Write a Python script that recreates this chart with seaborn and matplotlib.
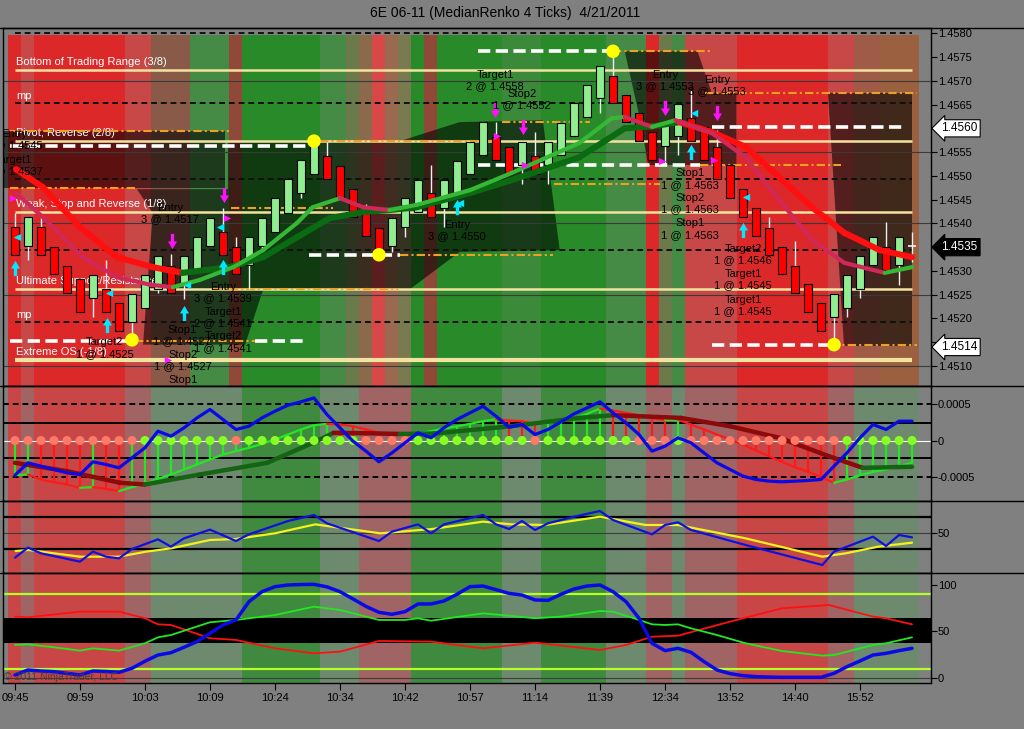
import numpy as np
import pandas as pd
import matplotlib
matplotlib.use("Agg")
import matplotlib.pyplot as plt
import seaborn as sns
from matplotlib.collections import LineCollection
from matplotlib.patches import Polygon
from matplotlib.path import Path
from matplotlib.lines import Line2D
import matplotlib.transforms as mtransforms

# ======================= DATA =======================
title = "6E 06-11 (MedianRenko 4 Ticks)  4/21/2011"
time_labels = ["09:45", "09:59", "10:03", "10:09", "10:24", "10:34", "10:42",
               "10:57", "11:14", "11:39", "12:34", "13:52", "14:40", "15:52"]
time_label_bars = [0, 5, 10, 15, 20, 25, 30, 35, 40, 45, 50, 55, 60, 65]
price_ticks = [1.4510, 1.4515, 1.4520, 1.4525, 1.4530, 1.4535, 1.4540, 1.4545,
               1.4550, 1.4555, 1.4560, 1.4565, 1.4570, 1.4575, 1.4580]
hidden_tick_labels = [1.4515, 1.4535, 1.4560]

bar_open = [1.45392, 1.45352, 1.45392, 1.45350, 1.45310, 1.45283, 1.45243, 1.45262, 1.45233, 1.45193,
            1.45222, 1.45262, 1.45310, 1.45273, 1.45304, 1.45352, 1.45382, 1.45350, 1.45313, 1.45352,
            1.45382, 1.45422, 1.45464, 1.45504, 1.45542, 1.45521, 1.45472, 1.45432, 1.45390, 1.45352,
            1.45392, 1.45424, 1.45464, 1.45432, 1.45464, 1.45504, 1.45544, 1.45582, 1.45561, 1.45523,
            1.45542, 1.45523, 1.45544, 1.45584, 1.45624, 1.45663, 1.45710, 1.45670, 1.45632, 1.45592,
            1.45563, 1.45584, 1.45621, 1.45603, 1.45561, 1.45523, 1.45472, 1.45432, 1.45390, 1.45350,
            1.45310, 1.45273, 1.45233, 1.45203, 1.45222, 1.45262, 1.45313, 1.45350, 1.45313, 1.45352]
bar_high = [1.45422, 1.45413, 1.45413, 1.45350, 1.45310, 1.45283, 1.45292, 1.45323, 1.45233, 1.45252,
            1.45292, 1.45331, 1.45336, 1.45331, 1.45371, 1.45411, 1.45432, 1.45371, 1.45371, 1.45411,
            1.45453, 1.45493, 1.45533, 1.45573, 1.45571, 1.45521, 1.45472, 1.45441, 1.45390, 1.45411,
            1.45453, 1.45491, 1.45523, 1.45491, 1.45531, 1.45571, 1.45613, 1.45613, 1.45561, 1.45571,
            1.45592, 1.45571, 1.45611, 1.45653, 1.45691, 1.45731, 1.45762, 1.45670, 1.45632, 1.45592,
            1.45613, 1.45651, 1.45680, 1.45603, 1.45596, 1.45523, 1.45472, 1.45432, 1.45413, 1.45350,
            1.45363, 1.45273, 1.45233, 1.45252, 1.45292, 1.45331, 1.45371, 1.45403, 1.45371, 1.45382]
bar_low = [1.45334, 1.45323, 1.45334, 1.45294, 1.45254, 1.45214, 1.45203, 1.45214, 1.45174, 1.45155,
           1.45222, 1.45254, 1.45254, 1.45241, 1.45304, 1.45352, 1.45334, 1.45294, 1.45262, 1.45340,
           1.45382, 1.45422, 1.45453, 1.45504, 1.45493, 1.45453, 1.45413, 1.45374, 1.45334, 1.45340,
           1.45371, 1.45424, 1.45413, 1.45392, 1.45464, 1.45504, 1.45544, 1.45533, 1.45504, 1.45483,
           1.45504, 1.45483, 1.45544, 1.45584, 1.45624, 1.45632, 1.45653, 1.45613, 1.45573, 1.45533,
           1.45523, 1.45544, 1.45573, 1.45533, 1.45493, 1.45453, 1.45413, 1.45374, 1.45334, 1.45294,
           1.45254, 1.45214, 1.45174, 1.45145, 1.45203, 1.45243, 1.45313, 1.45302, 1.45271, 1.45319]
bar_close = [1.45334, 1.45413, 1.45334, 1.45294, 1.45254, 1.45214, 1.45292, 1.45214, 1.45174, 1.45252,
             1.45292, 1.45331, 1.45254, 1.45331, 1.45371, 1.45411, 1.45334, 1.45294, 1.45371, 1.45411,
             1.45453, 1.45493, 1.45533, 1.45571, 1.45493, 1.45453, 1.45413, 1.45374, 1.45342, 1.45411,
             1.45453, 1.45491, 1.45413, 1.45491, 1.45531, 1.45571, 1.45613, 1.45533, 1.45504, 1.45571,
             1.45504, 1.45571, 1.45611, 1.45653, 1.45691, 1.45731, 1.45653, 1.45613, 1.45573, 1.45533,
             1.45613, 1.45651, 1.45573, 1.45533, 1.45493, 1.45453, 1.45413, 1.45374, 1.45334, 1.45294,
             1.45254, 1.45214, 1.45174, 1.45252, 1.45292, 1.45331, 1.45371, 1.45302, 1.45371, 1.45352]

# moving averages (bar position, price)
slow_ma_x = [0.08, 2.15, 5.0, 7.85, 10.6, 12.9, 16.5, 19.1, 21.7, 24.2, 26.8, 28.8, 30.9, 35.0, 38.2,
             43.4, 46.9, 49.0, 51.1, 53.6, 56.2, 58.8, 61.3, 63.8, 66.5, 69.0]
slow_ma_y = [1.45514, 1.45476, 1.45392, 1.45329, 1.45308, 1.45296, 1.45308, 1.45329, 1.45371, 1.45411,
             1.45424, 1.45428, 1.45434, 1.45464, 1.45491, 1.45539, 1.45600, 1.45604, 1.45613, 1.45592,
             1.45561, 1.45497, 1.45434, 1.45380, 1.45344, 1.45329]
fast_ma_x = [0.08, 2.15, 5.2, 7.85, 10.4, 12.15, 14.2, 16.8, 19.1, 21.7, 22.9, 25.0, 26.8, 28.8, 30.9,
             35.0, 38.2, 43.4, 45.9, 46.9, 49.0, 50.8, 53.6, 56.2, 58.8, 61.3, 63.8, 66.9, 69.0]
fast_ma_y = [1.45464, 1.45413, 1.45329, 1.45287, 1.45271, 1.45266, 1.45281, 1.45308, 1.45344, 1.45401,
             1.45434, 1.45453, 1.45434, 1.45428, 1.45439, 1.45470, 1.45506, 1.45569, 1.45621, 1.45624,
             1.45603, 1.45617, 1.45590, 1.45539, 1.45449, 1.45365, 1.45317, 1.45296, 1.45308]

# Murrey math levels
murrey_solid = [1.45722, 1.45573, 1.45424, 1.45262, 1.45113]
murrey_dashed = [1.45800, 1.45653, 1.45493, 1.45344, 1.45193]
murrey_labels = ["Bottom of Trading Range (3/8)", "mp", "Pivot, Reverse (2/8)",
                 "Weak, Stop and Reverse (1/8)", "Ultimate Support/Resistance", "mp", "Extreme OS (-1/8)"]
murrey_label_prices = [1.45739, 1.45668, 1.45590, 1.45441, 1.45279, 1.45208, 1.45130]
price_grid = [1.4570, 1.4555, 1.4540, 1.4525, 1.4510]

# range lines: (price, from bar, to bar)
white_lines = [(1.45762, 35.6, 46.0), (1.45563, -0.4, 22.5), (1.45523, 35.6, 52.7),
               (1.45603, 53.6, 68.5), (1.45334, 22.6, 29.6), (1.45153, -0.4, 9.2),
               (1.45153, 18.5, 22.5), (1.45145, 53.6, 62.8)]
orange_lines = [(1.45762, 46.0, 53.5), (1.45594, -0.4, 16.5), (1.45474, -0.4, 9.4),
                (1.45432, 16.6, 24.5), (1.45573, 23.5, 37.3), (1.45613, 37.5, 44.2),
                (1.45483, 41.5, 49.6), (1.45262, 15.2, 29.5), (1.45674, 53.1, 69.4),
                (1.45523, 52.7, 63.5), (1.45334, 29.6, 41.4), (1.45153, 9.2, 18.5),
                (1.45145, 62.8, 69.4)]
swing_bars = [9, 23, 28, 46, 63]
swing_prices = [1.45155, 1.45573, 1.45334, 1.45762, 1.45145]

# shaded range zones (bar, price) vertices
zone_a = [(-0.92, 1.45594), (16.15, 1.45594), (16.15, 1.45474), (-0.92, 1.45474)]
zone_b = [(9.38, 1.45472), (16.38, 1.45472), (16.38, 1.45573), (29.6, 1.45573), (34.2, 1.45613),
          (40.6, 1.45617), (41.9, 1.45344), (34.2, 1.45340), (30.4, 1.45262), (19.1, 1.45262),
          (17.7, 1.45145), (9.85, 1.45145), (10.6, 1.45422)]
zone_c = [(46.9, 1.45762), (52.5, 1.45762), (53.6, 1.45674), (55.5, 1.45674), (55.5, 1.45523),
          (48.7, 1.45523), (48.1, 1.45617)]
zone_d = [(62.5, 1.45674), (69.0, 1.45674), (69.0, 1.45142), (63.8, 1.45142)]

# trade markers
buy_arrow_bars = [0, 7.1, 13, 16, 34, 52, 56]
buy_arrow_prices = [1.45306, 1.45187, 1.45212, 1.45308, 1.45434, 1.45550, 1.45386]
sell_arrow_bars = [16.1, 12.1, 36.9, 39.1, 50.0, 54.0]
sell_arrow_prices = [1.45460, 1.45363, 1.45638, 1.45603, 1.45642, 1.45632]
cyan_tri_bars = [0.15, 7.2, 13.2, 15.8, 34.2, 52.2, 56.2]
cyan_tri_prices = [1.45371, 1.45254, 1.45271, 1.45392, 1.45443, 1.45632, 1.45455]
mag_tri_bars = [-0.15, 16.3, 11.8, 37.1, 39.2, 49.8, 53.8]
mag_tri_prices = [1.45453, 1.45411, 1.45113, 1.45584, 1.45523, 1.45531, 1.45533]

trade_labels = [(-0.08, 1.45576, "Entry\n1 @ 1.4545"), (-0.08, 1.45522, "Target1\n1 @ 1.4537"),
                (11.92, 1.45421, "Entry\n3 @ 1.4517"), (6.92, 1.45138, "Target2\n1 @ 1.4525"),
                (16.0, 1.45255, "Entry\n3 @ 1.4539"), (16.0, 1.45202, "Target1\n2 @ 1.4541"),
                (16.0, 1.45150, "Target2\n1 @ 1.4541"), (12.85, 1.45164, "Stop1\n1 @ 1.4527"),
                (12.92, 1.45112, "Stop2\n1 @ 1.4527"), (12.92, 1.45059, "Stop1\n1 @ 1.4527"),
                (34.0, 1.45385, "Entry\n3 @ 1.4550"), (36.92, 1.45700, "Target1\n2 @ 1.4558"),
                (39.0, 1.45660, "Stop2\n1 @ 1.4552"), (50.0, 1.45700, "Entry\n3 @ 1.4553"),
                (54.0, 1.45690, "Entry\n3 @ 1.4553"), (51.92, 1.45493, "Stop1\n1 @ 1.4563"),
                (51.92, 1.45442, "Stop2\n1 @ 1.4563"), (51.92, 1.45388, "Stop1\n1 @ 1.4563"),
                (56.0, 1.45335, "Target2\n1 @ 1.4546"), (56.0, 1.45282, "Target1\n1 @ 1.4545"),
                (56.0, 1.45227, "Target1\n1 @ 1.4545")]
price_boxes = [(1.4560, "1.4560", "white", "black"), (1.4535, "1.4535", "black", "white"),
               (1.4514, "1.4514", "white", "black")]

# background regime bands (code, number of bars)
main_runs = [("R", 1), ("r", 1), ("R", 7), ("r", 2), ("b", 3), ("g", 3), ("br", 1), ("G", 6),
             ("g", 2), ("o", 1), ("ob", 1), ("R2", 1), ("p", 1), ("q", 1), ("G", 1), ("br", 1),
             ("G", 5), ("g2", 3), ("G", 5), ("g", 3), ("R", 1), ("o", 1), ("g", 1), ("r", 4),
             ("R", 7), ("r", 2), ("bb", 2), ("bw", 3)]
lower_runs = [("R", 1), ("p", 1), ("R", 7), ("p", 2), ("n", 7), ("G", 6), ("n", 3), ("p", 4),
              ("G", 7), ("n", 3), ("G", 5), ("n", 3), ("p", 2), ("n", 1), ("p", 4), ("R", 7),
              ("p", 2), ("n", 5)]

# MACD panel (values in units of 1e-4)
macd_blue_e4 = [-4.75, -3.06, -3.52, -3.97, -4.43, -4.66, -2.92, -3.29, -3.74, -2.37,
                -1.00, 1.28, 0.59, 1.74, 3.10, 4.25, 2.88, 1.51, 1.96, 3.10,
                4.02, 4.84, 5.30, 5.84, 3.56, 1.74, -0.09, -1.46, -2.92, -1.69,
                -0.32, 1.05, 0.37, 1.74, 2.88, 3.79, 4.70, 3.33, 1.83, 2.19,
                0.82, 1.51, 2.56, 3.65, 4.47, 5.30, 3.79, 2.42, 0.82, -1.46,
                -0.78, 0.37, -0.32, -1.69, -3.06, -3.97, -4.89, -5.34, -5.57, -5.66,
                -5.57, -5.48, -5.34, -3.52, -1.69, 0.37, 2.19, 1.51, 2.65, 2.65]
macd_hist_e4 = [-4.75, -4.66, -5.34, -5.71, -6.03, -6.48, -6.39, -6.62, -6.94, -6.39,
                -5.94, -5.25, -4.66, -3.97, -3.29, -2.60, -1.92, -1.46, -1.00, -0.46,
                0.14, 0.82, 1.51, 2.10, 2.28, 2.19, 1.96, 1.51, 1.05, 0.91,
                0.82, 0.96, 1.28, 1.64, 1.96, 2.28, 2.65, 2.92, 2.74, 2.65,
                2.28, 2.40, 2.56, 3.10, 3.65, 4.38, 4.11, 3.79, 3.47, 3.10,
                2.80, 2.85, 2.19, 1.51, 0.82, 0.14, -0.55, -1.37, -2.15, -2.92,
                -3.65, -4.29, -5.02, -5.80, -5.34, -4.75, -4.29, -3.97, -3.52, -3.06]
macd_sig_x = [0, 4, 8.1, 10, 14.2, 19.4, 23.2, 24.5, 27, 29.6, 32.2, 38.2, 43.4, 46, 51.2, 55,
              58.8, 62.6, 65.2, 69]
macd_sig_e4 = [-3.06, -4.20, -5.80, -6.03, -4.66, -3.06, -0.09, 1.05, 1.00, 0.90, 0.95, 1.96,
               3.10, 3.47, 3.10, 1.96, 0.37, -2.15, -3.74, -3.60]
dot_runs = [("S", 10), ("G", 7), ("S", 1), ("G", 9), ("S", 4), ("G", 9), ("S", 1), ("G", 7),
            ("S", 3), ("G", 1), ("S", 12), ("G", 6)]

# oscillator panel
osc_yellow_x = [0.05, 1.05, 5, 8, 10.1, 12, 15, 17, 20, 23.1, 28.1, 32.1, 36, 38.2, 40.8, 45, 48.5,
                51, 56.2, 62.1, 63.9, 66.4, 69]
osc_yellow_y = [27.5, 28.75, 20.4, 20.4, 26.7, 30.8, 41.25, 42.5, 49.6, 60.8, 49.6, 55.0, 64.2,
                60.8, 60.0, 70.4, 60.0, 60.0, 43.3, 20.4, 24.6, 32.9, 37.9]
osc_blue_x = [0, 1, 2, 5, 6, 7, 8, 9, 11, 12, 13, 15, 17, 18, 21, 23, 24, 28, 29, 31, 32, 33, 36,
              37, 38, 39, 40, 41, 43, 45, 46, 49, 50, 51, 52, 56.2, 62.1, 63, 66, 67, 68, 69]
osc_blue_y = [19.2, 31.7, 24.6, 14.2, 26.7, 20.4, 18.3, 30.0, 42.1, 32.9, 43.3, 54.2, 40.0, 48.3,
              65.0, 72.5, 62.1, 40.0, 51.7, 60.8, 49.6, 60.8, 72.5, 60.8, 55.0, 65.0, 53.75, 62.1,
              70.4, 77.5, 66.25, 48.3, 60.0, 63.3, 53.75, 35.0, 10.0, 26.7, 45.4, 33.75, 47.5, 44.6]

# directional panel
adx_blue = [3.2, 8.6, 7.5, 6.8, 5.0, 3.2, 7.5, 7.0, 6.1, 10.4,
            18.0, 24.7, 27.2, 33.0, 39.1, 48.0, 57.0, 62.4, 82.1, 92.8,
            98.2, 100.0, 100.5, 100.7, 98.0, 92.8, 85.0, 77.0, 70.6, 68.5,
            71.3, 79.6, 79.6, 82.8, 90.0, 98.2, 98.9, 95.0, 91.0, 89.2,
            83.9, 83.5, 90.0, 95.7, 98.9, 100.0, 92.8, 82.1, 64.2, 37.3,
            29.4, 31.9, 27.6, 17.6, 8.6, 4.7, 2.5, 1.4, 1.0, 0.7,
            0.7, 0.7, 0.7, 5.0, 12.2, 18.3, 24.7, 26.5, 29.4, 31.9]
di_green_x = [0, 1, 3, 5, 6, 8, 10, 11, 12, 15, 17, 20, 23, 25, 28, 30, 31, 32, 36, 38.2, 40, 42,
              45, 46, 48, 49, 50, 51, 52, 54, 56.2, 59, 62.1, 63, 66, 67, 69]
di_green_y = [35.5, 36.2, 33, 29.4, 31.9, 29.4, 37.3, 43.7, 46.2, 59.9, 62.4, 67.7, 76.7, 73.1,
              62.4, 62.4, 64.2, 61.6, 69.5, 66.7, 64.2, 66.0, 72.0, 71.3, 62.4, 57.7, 57.0, 57.7,
              53.4, 46.2, 37.3, 29.0, 24.0, 24.7, 35.5, 37.3, 43.7]
di_red_x = [0, 1, 5, 8, 10, 11, 12, 15, 17, 20, 23, 25, 28, 32, 36, 38.2, 40, 45, 47, 49, 51, 55,
            59, 62.6, 66, 67, 69]
di_red_y = [66.0, 65.2, 71.3, 71.3, 64.2, 57.7, 57.0, 42.7, 40.9, 31.9, 26.5, 28.3, 39.8, 39.1,
            31.9, 35.2, 38.0, 30.1, 35.5, 44.4, 45.5, 60.6, 74.9, 78.5, 66.0, 64.2, 57.7]

# ======================= STYLE =======================
sns.set_theme(style="white")
plt.rcParams['font.family'] = ['Liberation Sans', 'DejaVu Sans']
plt.rcParams['axes.edgecolor'] = 'black'

W, H = 1024, 729
GREY = '#808080'
main_pal = {"R": "#DC2828", "r": "#C84848", "b": "#8A5A48", "g": "#458A45", "br": "#904838",
            "G": "#288A28", "o": "#6A7A4A", "ob": "#8A6A4A", "R2": "#D84848", "p": "#9A6A50",
            "q": "#7A7A50", "g2": "#3A8A3A", "bb": "#A05A48", "bw": "#9A6040"}
lower_pal = {"R": "#C84646", "p": "#A06464", "n": "#6E8A6E", "G": "#3F8A3F"}

XL = (-0.92, 70.46)


def rect(x0, y0, x1, y1):
    return [x0 / W, 1 - y1 / H, (x1 - x0) / W, (y1 - y0) / H]


fig = plt.figure(figsize=(W / 100, H / 100), dpi=100, facecolor=GREY)
ax1 = fig.add_axes(rect(3, 28, 931, 386))
ax2 = fig.add_axes(rect(3, 386, 931, 501))
ax3 = fig.add_axes(rect(3, 501, 931, 573))
ax4 = fig.add_axes(rect(3, 573, 931, 683))
axes = [ax1, ax2, ax3, ax4]
for ax in axes:
    ax.set_facecolor(GREY)
    ax.set_xlim(*XL)
    for s in ax.spines.values():
        s.set_color('black')
        s.set_linewidth(1.0)
    ax.yaxis.tick_right()
    ax.tick_params(axis='y', which='both', right=True, left=False, direction='out',
                   length=4, width=0.8, colors='black', labelsize=8, pad=1)
    ax.tick_params(axis='x', bottom=False, labelbottom=False)
    ax.grid(False)

ax1.set_ylim(1.45058, 1.45811)
ax2.set_ylim(-8.29, 7.47)
ax3.set_ylim(0, 90)
ax4.set_ylim(-5.4, 112.9)


def draw_runs(ax, runs, pal, ymax):
    pos = 0
    for code, n in runs:
        ax.axvspan(pos - 0.5, pos + n - 0.5, ymin=0, ymax=ymax, color=pal[code], lw=0, zorder=0.5)
        pos += n


draw_runs(ax1, main_runs, main_pal, 0.980)
for ax in (ax2, ax3, ax4):
    draw_runs(ax, lower_runs, lower_pal, 1.0)


def slope_line(ax, xs, ys, up, down, lw, z):
    pts = np.column_stack([xs, ys])
    segs = np.stack([pts[:-1], pts[1:]], axis=1)
    cols = [up if b >= a else down for a, b in zip(ys[:-1], ys[1:])]
    lc = LineCollection(segs, colors=cols, linewidths=lw, capstyle='round',
                        joinstyle='round', zorder=z)
    ax.add_collection(lc)


# ---------------- main price panel ----------------
for zone in (zone_a, zone_b, zone_c, zone_d):
    ax1.add_patch(Polygon(zone, closed=True, facecolor='black', alpha=0.58, lw=0, zorder=1))

for p in price_grid:
    ax1.axhline(p, color='#3A3A3A', lw=0.8, zorder=1.2)

for i, p in enumerate(murrey_solid):
    lw = 3.0 if i == len(murrey_solid) - 1 else 1.8
    ax1.hlines(p, 0, 69, color='#F2E3A0', lw=lw, zorder=2)
for p in murrey_dashed:
    ax1.hlines(p, 0, 69, color='#101010', lw=1.4, linestyles=(0, (3, 2)), zorder=2)
for txt, p in zip(murrey_labels, murrey_label_prices):
    ax1.text(0.08, p, txt, color='white', fontsize=8, ha='left', va='center', zorder=2.5)

for p, x0, x1 in orange_lines:
    ax1.hlines(p, x0, x1, color='#F0A020', lw=1.5, linestyles=(0, (4, 1.5, 1, 1.5)), zorder=3)
for p, x0, x1 in white_lines:
    ax1.hlines(p, x0, x1, color='white', lw=2.6, linestyles=(0, (3.4, 1.5)), zorder=3.1)

# candles
bars = np.arange(len(bar_open))
o = np.array(bar_open); c = np.array(bar_close)
ax1.vlines(bars, bar_low, bar_high, color='#F0F0F0', lw=1.0, zorder=4)
up = c > o
dn = c < o
ax1.bar(bars[up], (c - o)[up], bottom=o[up], width=0.62, color='#90EE90',
        edgecolor='black', linewidth=0.8, zorder=4.5)
ax1.bar(bars[dn], (o - c)[dn], bottom=c[dn], width=0.62, color='#FF0000',
        edgecolor='black', linewidth=0.8, zorder=4.5)
flat = c == o
ax1.hlines(o[flat], bars[flat] - 0.31, bars[flat] + 0.31, color='#F0F0F0', lw=1.2, zorder=4.6)

# moving averages
slope_line(ax1, slow_ma_x, slow_ma_y, '#0B6B12', '#FF1010', 4.4, 5)
slope_line(ax1, fast_ma_x, fast_ma_y, '#36B836', '#D02858', 3.0, 5.2)

# swing dots and arrows
sns.scatterplot(x=swing_bars, y=swing_prices, color='#FFFF00', s=95, edgecolor='none',
                ax=ax1, zorder=6, legend=False)
arrow_up = Path([(-0.22, -1), (0.22, -1), (0.22, 0), (0.6, 0), (0, 1), (-0.6, 0), (-0.22, 0),
                 (-0.22, -1)], closed=True)
arrow_dn = Path([(-0.22, 1), (0.22, 1), (0.22, 0), (0.6, 0), (0, -1), (-0.6, 0), (-0.22, 0),
                 (-0.22, 1)], closed=True)
ax1.scatter(buy_arrow_bars, buy_arrow_prices, marker=arrow_up, s=120, color='#00E8FF',
            lw=0, zorder=6)
ax1.scatter(sell_arrow_bars, sell_arrow_prices, marker=arrow_dn, s=120, color='#FF10FF',
            lw=0, zorder=6)
ax1.scatter(cyan_tri_bars, cyan_tri_prices, marker='<', s=28, color='#00E8FF', lw=0, zorder=6)
ax1.scatter(mag_tri_bars, mag_tri_prices, marker='>', s=28, color='#FF10FF', lw=0, zorder=6)

for bx, p, txt in trade_labels:
    ax1.text(bx, p, txt, color='black', fontsize=8, ha='center', va='center',
             linespacing=1.2, zorder=7, clip_on=True)

ax1.set_yticks(price_ticks)
ax1.set_yticklabels(["" if any(abs(t - h) < 1e-7 for h in hidden_tick_labels) else f"{t:.4f}"
                     for t in price_ticks])
blend1 = mtransforms.blended_transform_factory(ax1.transAxes, ax1.transData)
for p, txt, fc, tc in price_boxes:
    ax1.text(1.011, p, txt, transform=blend1, ha='left', va='center', fontsize=8.5, color=tc,
             zorder=10, clip_on=False,
             bbox=dict(boxstyle='larrow,pad=0.22', fc=fc, ec='black', lw=0.8))

# ---------------- MACD panel ----------------
for lvl in (5, -5):
    ax2.axhline(lvl, color='black', lw=1.4, ls=(0, (3, 2)), zorder=1)
for lvl in (2.4, -2.4):
    ax2.axhline(lvl, color='black', lw=1.4, zorder=1)
ax2.axhline(0, color='white', lw=0.8, zorder=1.5)
hist = np.array(macd_hist_e4)
hist_cols = ['#22E822' if (i == 0 or hist[i] >= hist[i - 1]) else '#FF1A1A'
             for i in range(len(hist))]
ax2.vlines(bars, 0, hist, colors=hist_cols, lw=1.6, zorder=2)
slope_line(ax2, bars, hist, '#22E822', '#FF1A1A', 1.6, 2.2)
slope_line(ax2, macd_sig_x, macd_sig_e4, '#146414', '#8B0A0A', 3.2, 2.5)
dot_states = [s for s, n in dot_runs for _ in range(n)]
dots = pd.DataFrame({"bar": bars, "zero": np.zeros(len(bars)), "state": dot_states})
sns.scatterplot(data=dots, x="bar", y="zero", hue="state",
                palette={"S": "#FF7A66", "G": "#88FF22"}, s=42, edgecolor='none',
                legend=False, ax=ax2, zorder=3)
sns.lineplot(x=bars, y=macd_blue_e4, color='#0A0AE6', linewidth=2.3, ax=ax2, zorder=4)
ax2.set_yticks([5, 0, -5])
ax2.set_yticklabels(["0.0005", "0", "-0.0005"])

# ---------------- oscillator panel ----------------
ax3.axhline(70, color='black', lw=1.6, zorder=1)
ax3.axhline(30, color='black', lw=1.6, zorder=1)
ax3.axhline(50, color='#3C3C3C', lw=0.8, zorder=1)
sns.lineplot(x=osc_yellow_x, y=osc_yellow_y, color='#F5F020', linewidth=1.6, ax=ax3, zorder=2)
sns.lineplot(x=osc_blue_x, y=osc_blue_y, color='#1010E0', linewidth=1.6, ax=ax3, zorder=3)
ax3.set_yticks([50])
ax3.set_yticklabels(["50"])

# ---------------- directional panel ----------------
ax4.axhspan(37.5, 64.5, color='black', lw=0, zorder=1)
ax4.axhline(90, color='#B4FF28', lw=1.6, zorder=1.2)
ax4.axhline(10, color='#B4FF28', lw=1.6, zorder=1.2)
ax4.axhline(0, color='#3C3C3C', lw=0.8, zorder=1.2)
sns.lineplot(x=di_red_x, y=di_red_y, color='#FF1010', linewidth=1.3, ax=ax4, zorder=2)
sns.lineplot(x=di_green_x, y=di_green_y, color='#22E822', linewidth=1.3, ax=ax4, zorder=2.1)
sns.lineplot(x=bars, y=adx_blue, color='#0A0AE6', linewidth=2.5, ax=ax4, zorder=3)
ax4.set_yticks([0, 50, 100])
ax4.set_yticklabels(["0", "50", "100"])
ax4.text(-0.85, 1.5, "\u00a9 2011 NinjaTrader, LLC", color='#404040', fontsize=7.5,
         ha='left', va='center', zorder=5)
ax4.set_xticks(time_label_bars)
ax4.set_xticklabels(time_labels)
ax4.tick_params(axis='x', bottom=True, labelbottom=True, direction='out', length=5,
                width=0.8, colors='black', labelsize=8, pad=2)

for ax in axes:
    ax.set_xlabel("")
    ax.set_ylabel("")
    ax.set_xlim(*XL)

# frame lines spanning to the figure edge
for yp in (28, 386, 501, 573):
    fig.add_artist(Line2D([0, 1], [1 - yp / H, 1 - yp / H], transform=fig.transFigure,
                          color='black', lw=1.0))

fig.text(505 / W, 1 - 13 / H, title, ha='center', va='center', fontsize=10, color='black')

fig.savefig("out.png", dpi=100, facecolor=fig.get_facecolor())
